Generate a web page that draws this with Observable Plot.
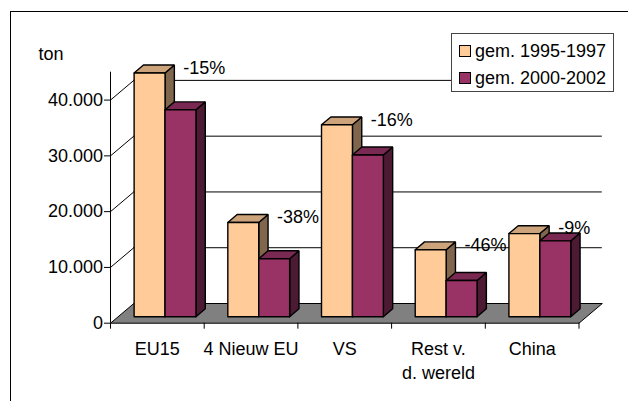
<!DOCTYPE html>
<html><head><meta charset="utf-8">
<script src="https://cdn.jsdelivr.net/npm/d3@7"></script>
<script src="https://cdn.jsdelivr.net/npm/@observablehq/plot@0.6"></script>
<style>
html,body{margin:0;padding:0;background:#fff;overflow:hidden;width:628px;height:401px;}
#frame{position:absolute;left:10px;top:11px;width:700px;height:500px;border-left:1.5px solid #000;border-top:1.5px solid #000;}
#chart{position:absolute;left:0;top:0;}
#legend{position:absolute;left:451px;top:33px;width:161px;height:57px;border:1px solid #444;background:#fff;font:18px "Liberation Sans",Arial,sans-serif;color:#000;}
.item{position:absolute;left:7px;height:20px;line-height:20px;white-space:nowrap;}
.sw{display:inline-block;width:10px;height:10px;border:1.5px solid #000;vertical-align:middle;margin-right:4px;position:relative;top:-1px;}
</style></head>
<body>
<div id="frame"></div>
<div id="chart"></div>
<div id="legend"></div>
<script>
// ---- data ----
const categories = ["EU15", "4 Nieuw EU", "VS", "Rest v.\nd. wereld", "China"];
const seriesNames = ["gem. 1995-1997", "gem. 2000-2002"];
const values1995 = [43700, 16900, 34400, 12000, 14900];
const values2000 = [37100, 10400, 29000, 6500, 13600];
const changeLabels = ["-15%", "-38%", "-16%", "-46%", "-9%"];
const yTicks = [0, 10000, 20000, 30000, 40000];
const yMax = 45000;
const axisLabel = "ton";

// ---- styles / geometry ----
const colors = [
  {front: "#FFCC99", top: "#CCA37A", side: "#80664D"},
  {front: "#993366", top: "#7A2952", side: "#4D1A33"}
];
const W = 628, H = 401;
const mL = 110, mR = 49.5, mT = 71.7, mB = 78.3;
const nCat = categories.length;
const pxPerX = (W - mL - mR) / nCat;
const pxPerY = (H - mT - mB) / yMax;
const DX = 23.3 / pxPerX, DY = 19.7 / pxPerY;   // wall depth in data units
const F0 = 0.33, F1 = 0.73;                     // bar front/back depth fractions
const GAP = 0.17, BW = 0.33;
const TX = 6 / pxPerX, TY = 6 / pxPerY;

const seriesValues = [values1995, values2000];
const rows = [];
let pid = 0;
function poly(pts, fill) {
  const id = pid++;
  [...pts, pts[0]].forEach(([x, y, f]) => rows.push({id, fill, x: x + f * DX, y: y + f * DY}));
}
categories.forEach((c, i) => {
  seriesValues.forEach((vals, j) => {
    const v = vals[i];
    const x0 = i + GAP + j * BW, x1 = x0 + BW;
    poly([[x1, 0, F0], [x1, 0, F1], [x1, v, F1], [x1, v, F0]], colors[j].side);
    poly([[x0, v, F0], [x1, v, F0], [x1, v, F1], [x0, v, F1]], colors[j].top);
    poly([[x0, 0, F0], [x1, 0, F0], [x1, v, F0], [x0, v, F0]], colors[j].front);
  });
});
const floorRows = [];
[[0, 0, 0], [nCat, 0, 0], [nCat, 0, 1], [0, 0, 1], [0, 0, 0]].forEach(([x, y, f]) =>
  floorRows.push({x: x + f * DX, y: y + f * DY}));

const fmt = d3.formatLocale({decimal: ",", thousands: ".", grouping: [3], currency: ["€", ""]}).format(",");
const grid = yTicks.filter(d => d > 0);

const chart = Plot.plot({
  width: W, height: H,
  marginLeft: mL, marginRight: mR, marginTop: mT, marginBottom: mB,
  x: {type: "linear", domain: [0, nCat], axis: null},
  y: {type: "linear", domain: [0, yMax], axis: null},
  color: {type: "identity"},
  style: {fontFamily: "'Liberation Sans', Arial, sans-serif", fontSize: "18px", background: "transparent", overflow: "visible"},
  marks: [
    Plot.line(floorRows, {x: "x", y: "y", fill: "#808080", stroke: "#000", strokeWidth: 1}),
    Plot.ruleY(grid, {y: d => d + DY, x1: DX, x2: nCat + DX, stroke: "#000", strokeWidth: 1}),
    Plot.link(grid, {x1: 0, y1: d => d, x2: DX, y2: d => d + DY, stroke: "#000", strokeWidth: 1}),
    Plot.ruleX([0], {y1: 0, y2: yMax, stroke: "#000", strokeWidth: 1}),
    Plot.ruleY(yTicks, {y: d => d, x1: 0, x2: -TX, stroke: "#000", strokeWidth: 1}),
    Plot.ruleX(d3.range(nCat + 1), {x: d => d, y1: 0, y2: -TY, stroke: "#000", strokeWidth: 1}),
    Plot.text(yTicks, {x: 0, y: d => d, text: d => fmt(d), textAnchor: "end", dx: -7.5, fontSize: 18, fill: "#000"}),
    Plot.line(rows, {x: "x", y: "y", z: "id", fill: "fill", stroke: "#000", strokeWidth: 1.4, strokeLinejoin: "miter"}),
    Plot.text(categories, {x: (d, i) => i + 0.5, y: 0, text: d => d, dy: 14.5, lineAnchor: "top", lineHeight: 1.33, fontSize: 18, fill: "#000"}),
    Plot.text(changeLabels, {x: (d, i) => i + GAP + BW + F1 * DX, y: (d, i) => values1995[i] + F1 * DY, text: d => d, textAnchor: "start", dx: 9, dy: 3, fontSize: 18, fill: "#000"}),
    Plot.text([axisLabel], {frameAnchor: "top-left", text: d => d, dx: -72, dy: -25, textAnchor: "start", fontSize: 18, fill: "#000"})
  ]
});
document.getElementById("chart").appendChild(chart);

const legend = d3.select("#legend");
seriesNames.forEach((s, j) => {
  const it = legend.append("div").attr("class", "item").style("top", (7 + j * 26.5) + "px");
  it.append("span").attr("class", "sw").style("background", colors[j].front);
  it.append("span").text(s);
});
</script>
</body></html>
